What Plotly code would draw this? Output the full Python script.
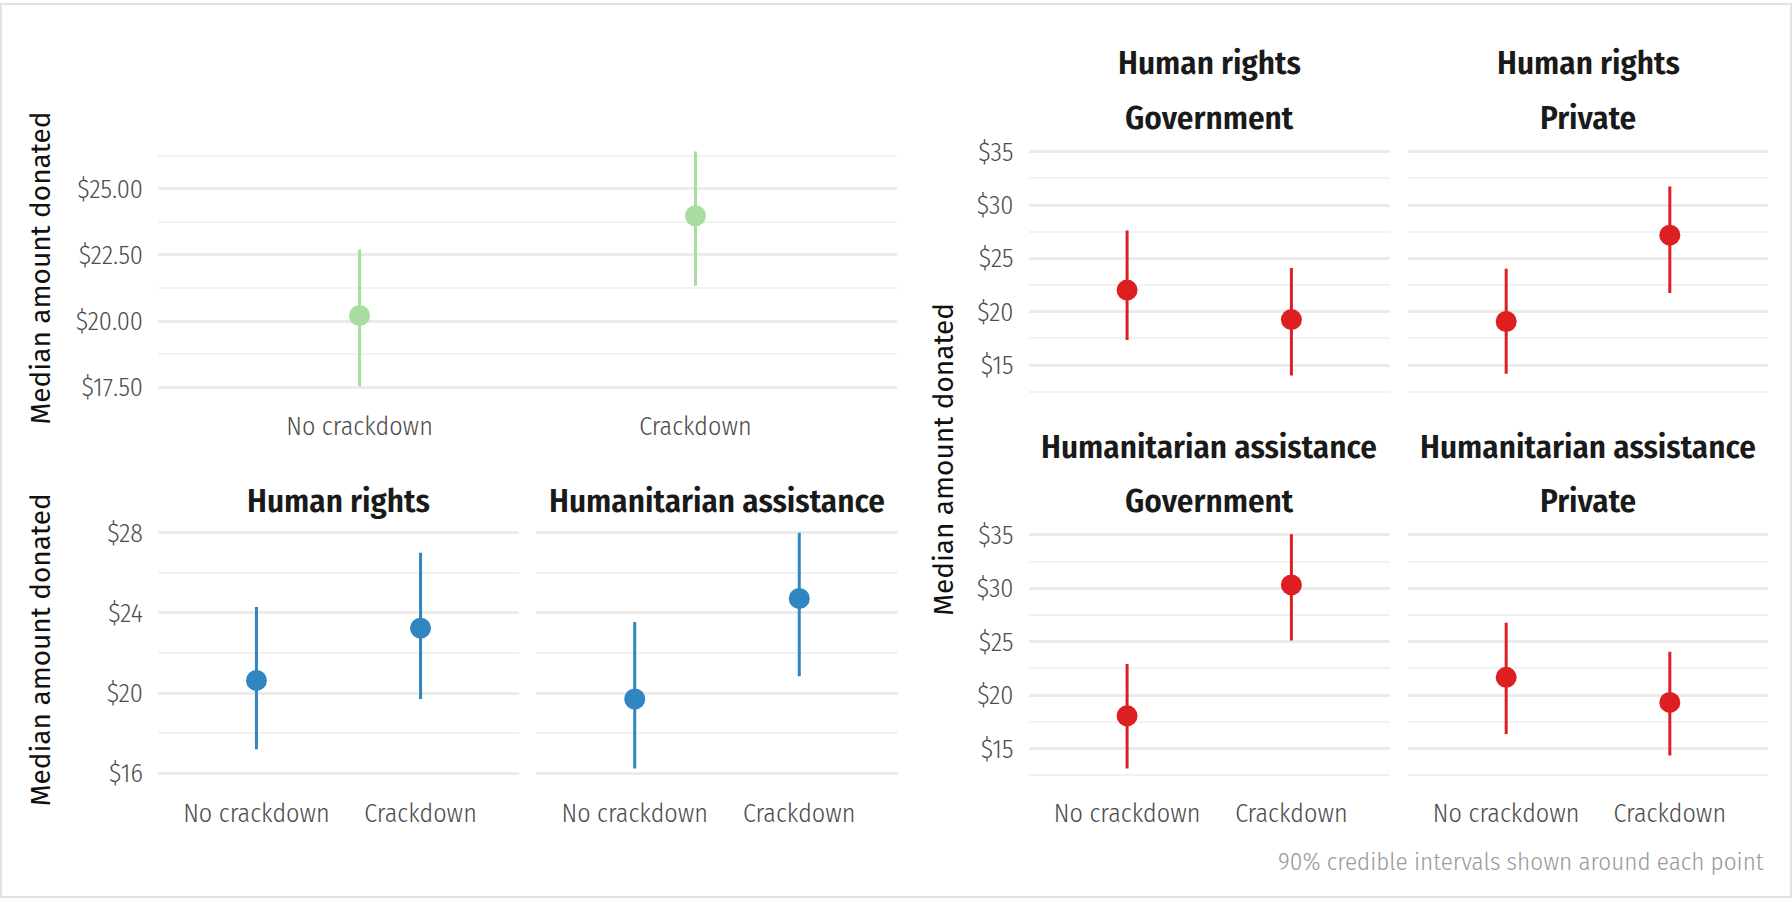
import plotly.graph_objects as go

W, H = 1792, 907

conditions = ["No crackdown", "Crackdown"]

# Overall effect of a crackdown
overall_median = [20.21, 23.98]
overall_low = [17.54, 21.33]
overall_high = [22.70, 26.41]

# By issue area
issue_names = ["Human rights", "Humanitarian assistance"]
issue_median = [[20.63, 23.24], [19.70, 24.72]]
issue_low = [[17.20, 19.70], [16.23, 20.84]]
issue_high = [[24.30, 27.00], [23.54, 28.00]]

# By issue area and funding source
combo_issue = ["Human rights", "Human rights", "Humanitarian assistance", "Humanitarian assistance"]
combo_funding = ["Government", "Private", "Government", "Private"]
combo_median = [[22.03, 19.26], [19.08, 27.18], [18.06, 30.31], [21.66, 19.32]]
combo_low = [[17.35, 14.02], [14.18, 21.76], [13.14, 25.10], [16.37, 14.34]]
combo_high = [[27.61, 24.10], [24.04, 31.74], [22.90, 35.05], [26.77, 24.06]]

GREEN = "#a9dca0"
BLUE = "#2f86c1"
RED = "#de1f22"

COND_FONT = "Fira Sans Condensed, Roboto Condensed, Liberation Sans Narrow, DejaVu Sans Condensed, Arial Narrow, sans-serif"
TITLE_FONT = "Fira Sans, Noto Sans, Open Sans, sans-serif"
TICK_COLOR = "#4d4d4d"
GRID_MAJOR = "#ebebeb"
GRID_MINOR = "#f2f2f2"


def px_x(v):
    return v / W


def px_y(v):
    return 1 - v / H


fig = go.Figure()


def add_points(axis_idx, med, lo, hi, color):
    suffix = "" if axis_idx == 1 else str(axis_idx)
    fig.add_trace(go.Scatter(
        x=conditions, y=med,
        mode="markers",
        marker=dict(color=color, size=21, line=dict(width=0)),
        error_y=dict(type="data", symmetric=False,
                     array=[h - m for h, m in zip(hi, med)],
                     arrayminus=[m - l for m, l in zip(med, lo)],
                     width=0, thickness=3, color=color),
        xaxis="x" + suffix, yaxis="y" + suffix,
        showlegend=False, hoverinfo="skip",
    ))


add_points(1, overall_median, overall_low, overall_high, GREEN)
for i in range(2):
    add_points(2 + i, issue_median[i], issue_low[i], issue_high[i], BLUE)
for i in range(4):
    add_points(4 + i, combo_median[i], combo_low[i], combo_high[i], RED)

# Panel boxes in pixel coordinates: (left, right, top, bottom)
panels = {
    1: (158, 897, 138.7, 400.0),
    2: (158, 519, 524.9, 787.8),
    3: (536, 898, 524.9, 787.8),
    4: (1028.5, 1390, 138.3, 398.9),
    5: (1408, 1768, 138.3, 398.9),
    6: (1028.5, 1390, 526.5, 787.6),
    7: (1408, 1768, 526.5, 787.6),
}

y_specs = {
    1: dict(range=[17.10, 26.85], dtick=2.5, minor=1.25, fmt=".2f"),
    2: dict(range=[15.64, 28.59], dtick=4, minor=2, fmt=".0f"),
    3: dict(range=[15.64, 28.59], dtick=4, minor=2, fmt=".0f"),
}
for k in (4, 5, 6, 7):
    y_specs[k] = dict(range=[12.04, 36.15], dtick=5, minor=2.5, fmt=".0f")

show_y = {1, 2, 4, 6}
show_x = {1, 2, 3, 6, 7}
x_standoff = {1: 10, 2: 15, 3: 15, 4: 15, 5: 15, 6: 15, 7: 15}

tick_font = dict(family=COND_FONT, size=26, color=TICK_COLOR, weight=300)

layout = {}
for k, (l, r, t, b) in panels.items():
    s = "" if k == 1 else str(k)
    spec = y_specs[k]
    layout["xaxis" + s] = dict(
        domain=[px_x(l), px_x(r)], anchor="y" + s,
        type="category", categoryorder="array", categoryarray=conditions,
        range=[-0.6, 1.6], showgrid=False, zeroline=False, showline=False,
        ticks="", showticklabels=k in show_x, tickfont=tick_font,
        ticklabelstandoff=x_standoff[k], fixedrange=True,
    )
    layout["yaxis" + s] = dict(
        domain=[px_y(b), px_y(t)], anchor="x" + s,
        range=spec["range"], tick0=0, dtick=spec["dtick"],
        tickprefix="$", tickformat=spec["fmt"],
        showgrid=True, gridcolor=GRID_MAJOR, gridwidth=2.5,
        minor=dict(dtick=spec["minor"], tick0=0, showgrid=True,
                   gridcolor=GRID_MINOR, gridwidth=1.8),
        zeroline=False, showline=False, ticks="",
        showticklabels=k in show_y, tickfont=tick_font,
        ticklabelstandoff=14, fixedrange=True,
    )

annotations = []

# Y-axis titles
for (cx, cy) in [(40, 269), (40, 656), (944, 463)]:
    annotations.append(dict(
        text="Median amount donated", xref="paper", yref="paper",
        x=px_x(cx), y=px_y(cy), xanchor="center", yanchor="middle",
        textangle=-90, showarrow=False,
        font=dict(family=TITLE_FONT, size=28, color="#111111"),
    ))

strip_font = dict(family=COND_FONT, size=33, color="#1a1a1a", weight=600)

# Single-line strips for the issue panels
for name, k in zip(issue_names, (2, 3)):
    l, r, t, b = panels[k]
    annotations.append(dict(
        text=name, xref="paper", yref="paper",
        x=px_x((l + r) / 2), y=px_y(t - 20), xanchor="center", yanchor="middle",
        showarrow=False, font=strip_font,
    ))

# Two-line strips for the issue x funding panels
for issue, funding, k in zip(combo_issue, combo_funding, (4, 5, 6, 7)):
    l, r, t, b = panels[k]
    for label, off in ((issue, 77), (funding, 22)):
        annotations.append(dict(
            text=label, xref="paper", yref="paper",
            x=px_x((l + r) / 2), y=px_y(t - off), xanchor="center", yanchor="middle",
            showarrow=False, font=strip_font,
        ))

# Caption
annotations.append(dict(
    text="90% credible intervals shown around each point",
    xref="paper", yref="paper", x=px_x(1766), y=px_y(871),
    xanchor="right", yanchor="middle", showarrow=False,
    font=dict(family=COND_FONT, size=25, color="#9a9a9a", weight=300),
))

fig.update_layout(
    width=W, height=H,
    margin=dict(l=0, r=0, t=0, b=0),
    paper_bgcolor="white", plot_bgcolor="white",
    annotations=annotations,
    shapes=[dict(type="rect", xref="paper", yref="paper",
                 x0=px_x(1), x1=px_x(W - 1), y0=px_y(H - 1), y1=px_y(1),
                 line=dict(color="#e3e3e3", width=2), layer="below")],
    **layout,
)

fig.write_html("out.html")
